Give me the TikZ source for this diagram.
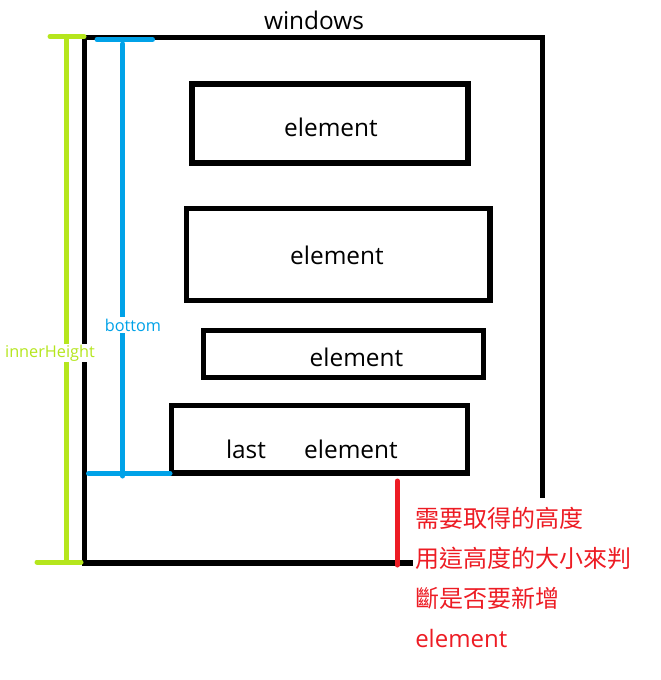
\documentclass[tikz,border=0pt]{standalone}
\usepackage{fontspec}
\setmainfont{Open Sans}
\newfontfamily\cjk{Noto Sans CJK TC}
\definecolor{lime}{HTML}{B5E61D}
\definecolor{sky}{HTML}{00A2E8}
\definecolor{alert}{HTML}{ED1C24}
\begin{document}
\begin{tikzpicture}[x=0.75pt,y=-0.75pt,
  win/.style={line width=4pt, line cap=butt, line join=miter},
  elembox/.style={draw, line width=3.9pt, inner sep=0pt},
  etext/.style={anchor=base, inner sep=0pt, font=\fontsize{18.3}{20}\selectfont},
  dimline/.style={line width=3.75pt, line cap=round},
  dimlabel/.style={fill=white, inner sep=1pt, font=\fontsize{12.2}{14}\selectfont},
  redtext/.style={anchor=base west, inner sep=0pt, text=alert, font=\fontsize{18}{20}\selectfont}]
\useasboundingbox (0,0) rectangle (660,680);
% window outline
\coordinate (wbr) at (413,563);
\coordinate (wbl) at (84.5,563);
\coordinate (wtl) at (84.5,37.5);
\coordinate (wtr) at (542.5,37.5);
\coordinate (wre) at (542.5,498);
\draw[win] (wbr) -- (wbl) -- (wtl) -- (wtr) -- (wre);
\node[etext] (wlabel) at (314,29.5) {windows};
% elements
\node[elembox, minimum width=207pt, minimum height=59.25pt] (e1) at (330,123.5) {};
\node[elembox, minimum width=227.6pt, minimum height=69pt] (e2) at (338.25,254.5) {};
\node[elembox, minimum width=210pt, minimum height=35.25pt] (e3) at (343.5,354) {};
\node[elembox, minimum width=222pt, minimum height=50.6pt] (e4) at (319.5,439.25) {};
\node[etext] (t1) at (331,136.5) {element};
\node[etext] (t2) at (337,264.5) {element};
\node[etext] (t3) at (356.5,366) {element};
\node[etext] (t4) at (351,458) {element};
\node[etext] (tlast) at (246,458) {last};
% innerHeight dimension
\coordinate (gt1) at (50,36.5);
\coordinate (gt2) at (84,36.5);
\coordinate (gtop) at (66,36.5);
\coordinate (gbot) at (66,562);
\coordinate (gb1) at (37,562);
\coordinate (gb2) at (81,562);
\draw[dimline, lime] (gt1) -- (gt2);
\draw[dimline, lime] (gb1) -- (gb2);
\draw[dimline, lime] (gtop) -- (gbot);
% bottom dimension
\coordinate (bt1) at (97,39.5);
\coordinate (bt2) at (152.5,39.5);
\coordinate (btop) at (122.7,44);
\coordinate (bbot) at (122.7,476);
\coordinate (bb1) at (88.5,473.5);
\coordinate (bb2) at (170,473.5);
\draw[dimline, sky] (bt1) -- (bt2);
\draw[dimline, sky] (bb1) -- (bb2);
\draw[dimline, sky] (btop) -- (bbot);
% labels
\node[dimlabel, text=lime] (ih) at (50,353) {innerHeight};
\node[dimlabel, text=sky] (bl) at (133,325) {bottom};
% red marker
\coordinate (rtop) at (397.3,481);
\coordinate (rbot) at (397.3,565);
\draw[dimline, alert] (rtop) -- (rbot);
\node[redtext] (r1) at (415,527) {\cjk 需要取得的高度};
\node[redtext] (r2) at (415,567) {\cjk 用這高度的大小來判};
\node[redtext] (r3) at (415,607) {\cjk 斷是否要新增};
\node[redtext] (r4) at (415,647.5) {element};
\end{tikzpicture}
\end{document}
